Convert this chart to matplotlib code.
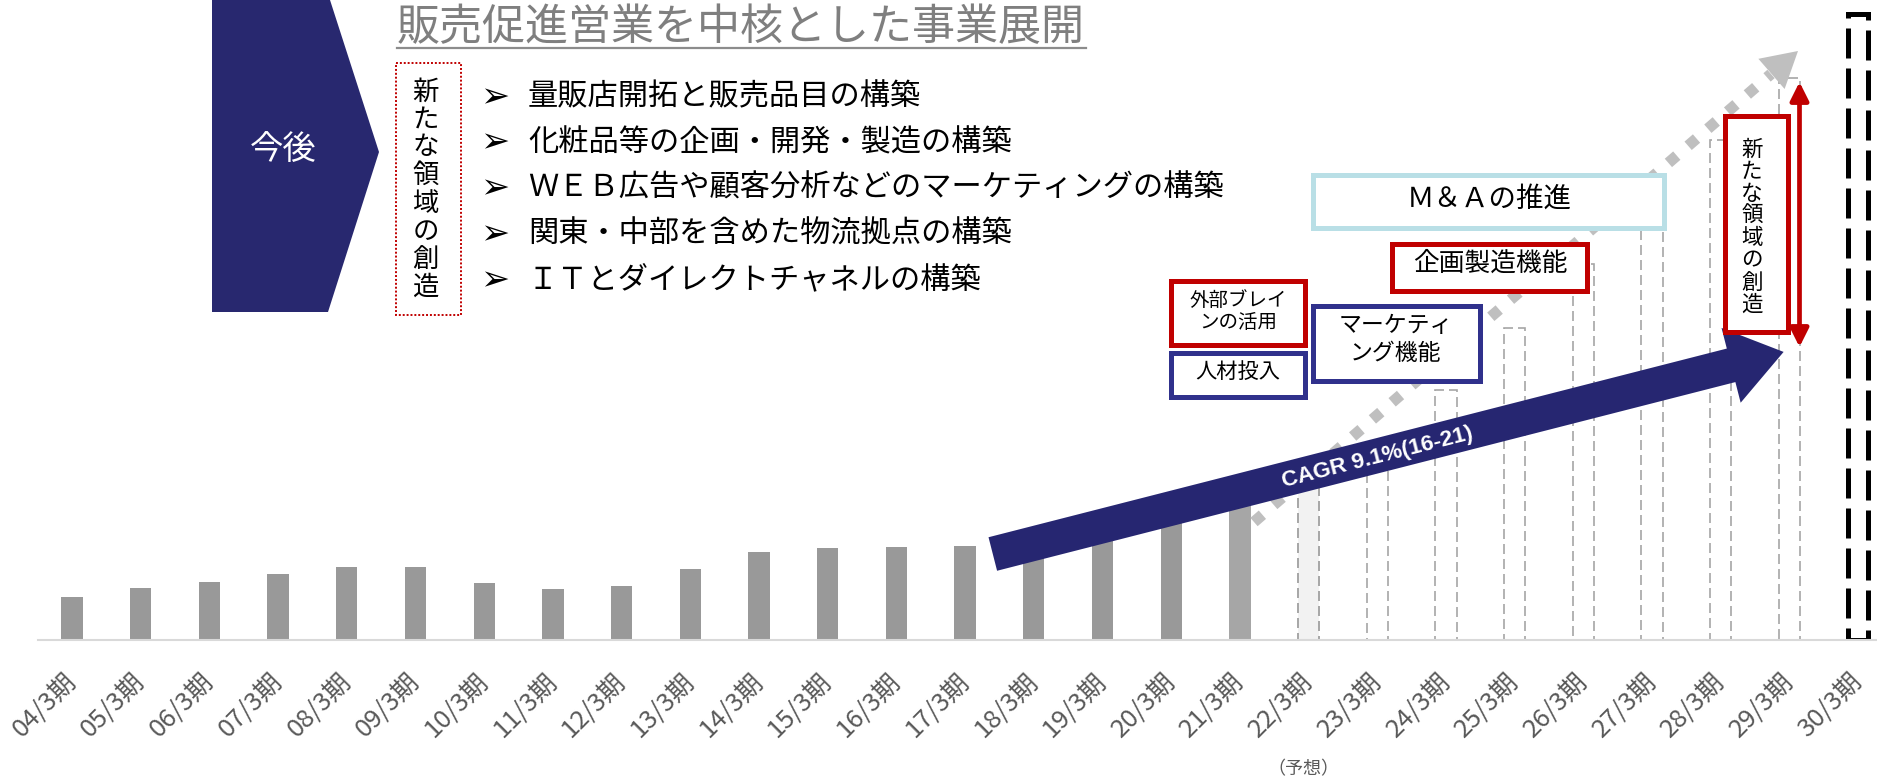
import matplotlib
matplotlib.use('Agg')
import numpy as np
import matplotlib.pyplot as plt
from matplotlib.patches import Polygon, Rectangle, FancyArrowPatch
from matplotlib.lines import Line2D
from matplotlib.transforms import Affine2D

plt.rcParams['font.family'] = ['Noto Sans CJK JP', 'DejaVu Sans']

# --- data (bar heights, arbitrary units) ---
periods = ["04/3期", "05/3期", "06/3期", "07/3期", "08/3期", "09/3期", "10/3期",
           "11/3期", "12/3期", "13/3期", "14/3期", "15/3期", "16/3期", "17/3期",
           "18/3期", "19/3期", "20/3期", "21/3期", "22/3期", "23/3期", "24/3期",
           "25/3期", "26/3期", "27/3期", "28/3期", "29/3期", "30/3期"]
actual = [43, 52, 58, 65.5, 73, 73, 57, 50.5, 53.5, 70.5, 88, 91.5, 93, 93.5,
          101, 110, 121, 138]
forecast = [155, 175, 250, 312, 376, 438, 500, 562]
target = [626]

title = "販売促進営業を中核とした事業展開"
side_label = "新たな領域の創造"
bullets = ["量販店開拓と販売品目の構築",
           "化粧品等の企画・開発・製造の構築",
           "ＷＥＢ広告や顧客分析などのマーケティングの構築",
           "関東・中部を含めた物流拠点の構築",
           "ＩＴとダイレクトチャネルの構築"]
cagr_label = "CAGR 9.1%(16-21)"

NAVY = '#28286f'
RED = '#c00000'
BLUE = '#30318c'
CYAN = '#b9dfe6'

W, H = 1877, 777
fig = plt.figure(figsize=(W / 100, H / 100), dpi=100)

# chart area: one category = 68.7 px, baseline at y=639.5 px, 1 unit = 1 px
base_y = 639.5
x0, step = 72, 68.7
left = x0 - 0.5 * step
ax = fig.add_axes([left / W, (H - base_y) / H, (W - left) / W, base_y / H])
ax.set_xlim(-0.5, (W - x0) / step)
ax.set_ylim(0, base_y)

n_act = len(actual)
n_fc = len(forecast)
xa = np.arange(n_act)
xf = np.arange(n_act, n_act + n_fc)
xt = np.arange(n_act + n_fc, len(periods))

ax.bar(xa, actual, width=0.31, color=['#999999'] * (n_act - 1) + ['#a6a6a6'], zorder=2)
ax.bar(xf, forecast, width=0.31, facecolor='none', edgecolor='#a6a6a6',
       linewidth=1.2, linestyle=(0, (6, 3)), zorder=2)
ax.bar(xf[:1], forecast[:1], width=0.31, facecolor='#f2f2f2', edgecolor='#a6a6a6',
       linewidth=1.2, linestyle=(0, (6, 3)), zorder=1.5)
ax.bar(xt, target, width=0.29, fill=False, edgecolor='black', linewidth=3.6,
       linestyle=(0, (6, 2)), zorder=2)

for s in ['top', 'left', 'right']:
    ax.spines[s].set_visible(False)
ax.spines['bottom'].set_color('#d9d9d9')
ax.spines['bottom'].set_linewidth(1.5)
ax.set_yticks([])
ax.set_xticks(np.arange(len(periods)))
ax.set_xticklabels(periods, rotation=45, ha='right', va='center',
                   rotation_mode='anchor', fontsize=18.5, color='#595959')
ax.tick_params(axis='x', length=0, pad=27)

# --- annotations in pixel coordinates (y from top) ---
px = Affine2D().scale(1 / W, -1 / H).translate(0, 1) + fig.transFigure


def poly(points, **kw):
    fig.add_artist(Polygon(points, closed=True, transform=px, **kw))


def box(xa_, ya_, xb_, yb_, color, lw=3.6, ls='-'):
    fig.add_artist(Rectangle((xa_, ya_), xb_ - xa_, yb_ - ya_, transform=px,
                             facecolor='white', edgecolor=color, linewidth=lw,
                             linestyle=ls, zorder=4))


def txt(x, y, s, **kw):
    kw.setdefault('ha', 'center')
    kw.setdefault('va', 'center')
    kw.setdefault('zorder', 5)
    fig.text(x, y, s, transform=px, **kw)


def vtext(x, y, dy, s, **kw):
    for i, ch in enumerate(s):
        txt(x, y + i * dy, ch, **kw)


# chevron
poly([(212, 0), (330, 0), (379, 152), (328, 312), (212, 312)], facecolor=NAVY,
     edgecolor='none', zorder=1)
txt(283, 149, "今後", color='white', fontsize=24)

# title
txt(397, 28, title, ha='left', color='#7f7f7f', fontsize=31)
fig.add_artist(Line2D([397, 1086], [48, 48], transform=px, color='#8c8c8c', lw=1.6))

# dotted box with vertical text
box(396, 63, 461, 315, RED, lw=1.4, ls=(0, (1, 1)))
vtext(425.5, 92, 27.9, side_label, fontsize=19, color='black')

# bullets
for i, b in enumerate(bullets):
    y = 97 + i * 45.7
    txt(480, y, "➢", ha='left', fontsize=25, family=['DejaVu Sans'], color='black')
    txt(528, y, b, ha='left', fontsize=21.8, color='black')

# grey diamond dotted arrow
fig.add_artist(Line2D([1254, 1771], [522, 74], transform=px, color='#bfbfbf', lw=8,
                      linestyle=(0, (1, 1.35)), dash_capstyle='butt', zorder=2))
poly([(1798, 51), (1784.6, 89), (1758.4, 58.8)], facecolor='#bfbfbf',
     edgecolor='none', zorder=2)

# navy CAGR arrow
c0 = np.array([992.8, 554.0])
u = np.array([0.9689, -0.2476])
nv = np.array([0.2476, 0.9689])
w, ls_, hw, lh = 17.3, 762, 38.6, 54.2
pts = [c0 - w * nv, c0 + w * nv, c0 + ls_ * u + w * nv, c0 + ls_ * u + hw * nv,
       c0 + (ls_ + lh) * u, c0 + ls_ * u - hw * nv, c0 + ls_ * u - w * nv]
poly(pts, facecolor='#262671', edgecolor='none', zorder=3)
txt(1377, 458, cagr_label, rotation=14.3, color='white', fontsize=16.2,
    fontweight='bold', family=['Liberation Sans', 'DejaVu Sans'])

# boxes
box(1171, 281, 1305, 344.5, RED)
txt(1238, 300, "外部ブレイ", fontsize=14)
txt(1238, 323, "ンの活用", fontsize=14)

box(1171, 353, 1305, 396.5, BLUE)
txt(1238, 372, "人材投入", fontsize=15.3)

box(1313.5, 306, 1480, 381, BLUE)
txt(1396, 326, "マーケティ", fontsize=16.5)
txt(1396, 354, "ング機能", fontsize=16.5)

box(1392, 244, 1587.5, 291, RED)
txt(1490, 264, "企画製造機能", fontsize=18.5)

box(1313.5, 175, 1664, 228, CYAN)
txt(1489, 199, "Ｍ＆Ａの推進", fontsize=19.8)

box(1725, 115.5, 1788, 331.5, RED)
vtext(1752, 150, 22.1, side_label, fontsize=15.5)

fig.add_artist(FancyArrowPatch((1799.5, 82), (1799.5, 347), transform=px,
                               arrowstyle='<|-|>,head_length=1.1,head_width=0.55',
                               mutation_scale=10, color=RED, lw=3.4,
                               shrinkA=0, shrinkB=0, zorder=4))

txt(1303, 769, "（予想）", fontsize=13, color='#595959')

fig.savefig('out.png', dpi=100, facecolor='white')
